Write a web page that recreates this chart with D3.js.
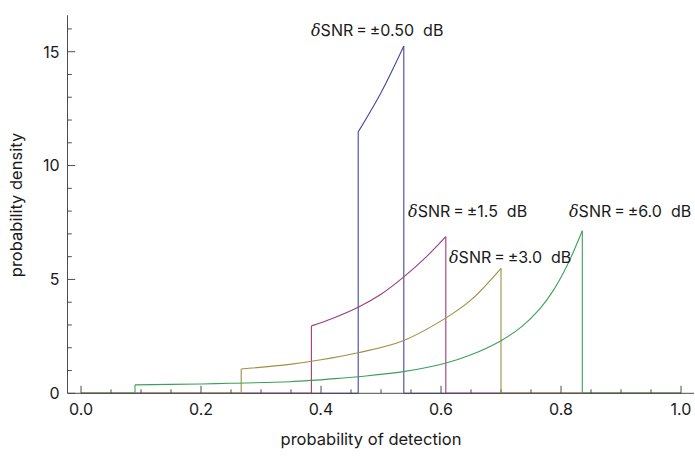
<!DOCTYPE html>
<html>
<head>
<meta charset="utf-8">
<script src="https://cdn.jsdelivr.net/npm/d3@7"></script>
<style>
  html, body { margin: 0; padding: 0; background: #fff; }
  text { font-family: Inter, "Open Sans", "Liberation Sans", sans-serif; fill: #1a1a1a; }
</style>
</head>
<body>
<svg id="chart" width="695" height="456"></svg>
<script>
// ---- data ----
const seriesNames = ["0.50", "1.5", "3.0", "6.0"];
const seriesColors = ["#45459f", "#9f3d75", "#a08f42", "#3f9f5a"];

const pd050 = [0.462, 0.500, 0.538];
const dens050 = [11.48, 13.2, 15.25];

const pd15 = [0.384, 0.420, 0.462, 0.500, 0.537, 0.575, 0.608];
const dens15 = [2.96, 3.30, 3.78, 4.35, 5.09, 5.98, 6.88];

const pd30 = [0.267, 0.348, 0.400, 0.462, 0.537, 0.607, 0.650, 0.700];
const dens30 = [1.07, 1.27, 1.47, 1.78, 2.31, 3.29, 4.10, 5.49];

const pd60 = [0.090, 0.200, 0.248, 0.348, 0.432, 0.462, 0.537, 0.607, 0.650, 0.700, 0.735, 0.765, 0.787, 0.810, 0.8355];
const dens60 = [0.37, 0.41, 0.44, 0.51, 0.66, 0.73, 0.95, 1.32, 1.69, 2.31, 2.94, 3.72, 4.51, 5.60, 7.14];

const xMajorTicks = [0.0, 0.2, 0.4, 0.6, 0.8, 1.0];
const xTickLabels = ["0.0", "0.2", "0.4", "0.6", "0.8", "1.0"];
const yMajorTicks = [0, 5, 10, 15];
const yTickLabels = ["0", "5", "10", "15"];

// label anchor data positions (pd, density) for the series annotations
const labelPd = [0.3833, 0.545, 0.6133, 0.8133];
const labelDens = [15.69, 7.74, 5.71, 7.74];

// ---- layout ----
const svg = d3.select("#chart");
const x = d3.scaleLinear().domain([0, 1]).range([81, 681]);
const y = d3.scaleLinear().domain([0, 15]).range([393.3, 51.7]);
const xMin = -0.0225, xMax = 1.0217, yMax = 16.6;
const axisColor = "#4d4d4d";

const seriesX = [pd050, pd15, pd30, pd60];
const seriesY = [dens050, dens15, dens30, dens60];

// zero segments of each density (drawn under the axis)
const zeroG = svg.append("g");
seriesX.forEach((xs, i) => {
  const segs = [[0, xs[0]], [xs[xs.length - 1], 1]];
  segs.forEach(s => {
    zeroG.append("line")
      .attr("x1", x(s[0])).attr("x2", x(s[1]))
      .attr("y1", y(0)).attr("y2", y(0))
      .attr("stroke", seriesColors[i]).attr("stroke-width", 1.2);
  });
});

// axes
const axG = svg.append("g").attr("stroke", axisColor).attr("stroke-width", 1).attr("fill", "none");
axG.append("line").attr("x1", x(xMin)).attr("x2", x(xMax)).attr("y1", y(0)).attr("y2", y(0));
axG.append("line").attr("x1", x(xMin)).attr("x2", x(xMin)).attr("y1", y(0)).attr("y2", y(yMax));

// x ticks (major every 0.2, minor every 0.05)
const xMinor = d3.range(0, 21).map(i => i * 0.05).filter(v => !xMajorTicks.some(m => Math.abs(m - v) < 1e-9));
xMinor.forEach(v => axG.append("line").attr("x1", x(v)).attr("x2", x(v)).attr("y1", y(0)).attr("y2", y(0) - 4));
xMajorTicks.forEach(v => axG.append("line").attr("x1", x(v)).attr("x2", x(v)).attr("y1", y(0)).attr("y2", y(0) - 7.5));

// y ticks (major every 5, minor every 1)
const yMinor = d3.range(0, 17).filter(v => v % 5 !== 0);
yMinor.forEach(v => axG.append("line").attr("x1", x(xMin)).attr("x2", x(xMin) + 4.3).attr("y1", y(v)).attr("y2", y(v)));
yMajorTicks.forEach(v => axG.append("line").attr("x1", x(xMin)).attr("x2", x(xMin) + 7.7).attr("y1", y(v)).attr("y2", y(v)));

// tick labels
const tl = svg.append("g").attr("font-size", 16);
xMajorTicks.forEach((v, i) => tl.append("text").attr("x", x(v)).attr("y", 415).attr("text-anchor", "middle").text(xTickLabels[i]));
yMajorTicks.forEach((v, i) => tl.append("text").attr("x", 59.5).attr("y", y(v) + 5.8).attr("text-anchor", "end").text(yTickLabels[i]));

// axis titles
svg.append("text").attr("x", 371).attr("y", 445).attr("text-anchor", "middle").attr("font-size", 16.5).text("probability of detection");
svg.append("text").attr("transform", "translate(22,205) rotate(-90)").attr("text-anchor", "middle").attr("font-size", 16.5).text("probability density");

// density curves
const curve = d3.line().x(d => x(d[0])).y(d => y(d[1])).curve(d3.curveCatmullRom.alpha(0.5));
const straight = d3.line().x(d => x(d[0])).y(d => y(d[1]));
const plotG = svg.append("g").attr("fill", "none").attr("stroke-width", 1.1);
seriesX.forEach((xs, i) => {
  const ys = seriesY[i];
  const pts = xs.map((v, j) => [v, ys[j]]);
  const n = xs.length - 1;
  plotG.append("path").attr("d", straight([[xs[0], 0], [xs[0], ys[0]]])).attr("stroke", seriesColors[i]);
  plotG.append("path").attr("d", curve(pts)).attr("stroke", seriesColors[i]);
  plotG.append("path").attr("d", straight([[xs[n], ys[n]], [xs[n], 0]])).attr("stroke", seriesColors[i]);
});

// annotations
const annG = svg.append("g").attr("font-size", 16);
seriesNames.forEach((nm, i) => {
  const t = annG.append("text").attr("x", x(labelPd[i])).attr("y", y(labelDens[i])).attr("xml:space", "preserve").style("white-space", "pre");
  t.append("tspan").attr("font-style", "italic").attr("font-family", "'DejaVu Serif', 'Liberation Serif', serif").text("δ");
  t.append("tspan").text("SNR\u2009=\u2009±" + nm + "  dB");
});
</script>
</body>
</html>
